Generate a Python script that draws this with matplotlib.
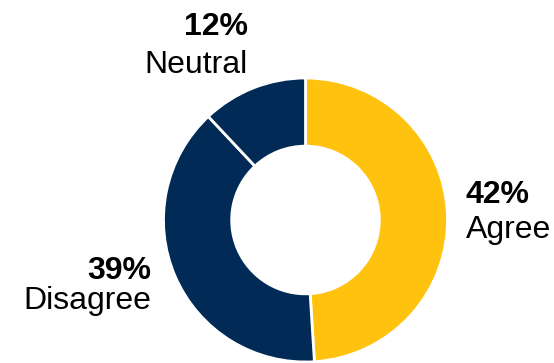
import matplotlib.pyplot as plt

# slice sizes as drawn and the printed labels
categories = ["Agree", "Disagree", "Neutral"]
slice_values = [49, 39, 12]
pct_labels = ["42%", "39%", "12%"]
colors = ["#FEC20F", "#012A57", "#012A57"]

W, H = 554, 363
plt.rcParams["font.family"] = ["Liberation Sans", "DejaVu Sans"]

fig = plt.figure(figsize=(W / 100, H / 100), dpi=100)

# donut box in pixels: center (305.5, 220), radius 142
cx, cy, r = 305.5, 220, 142
ax = fig.add_axes([(cx - r) / W, (H - cy - r) / H, 2 * r / W, 2 * r / H])
ax.pie(slice_values, colors=colors, startangle=90, counterclock=False,
       radius=1, wedgeprops=dict(width=0.48, edgecolor="white", linewidth=2))
ax.set_xlim(-1, 1)
ax.set_ylim(-1, 1)
ax.set_aspect("equal")
ax.axis("off")

# label placement (pixel x, baseline y of pct, baseline y of name, alignment)
label_pos = {
    "Agree": (466, 203, 238, "left"),
    "Disagree": (151, 279, 309, "right"),
    "Neutral": (248, 35, 73, "right"),
}
fs = 23
for cat, pct in zip(categories, pct_labels):
    x, y1, y2, ha = label_pos[cat]
    fig.text(x / W, (H - y1) / H, pct, ha=ha, va="baseline",
             fontsize=fs, fontweight="bold", color="black")
    fig.text(x / W, (H - y2) / H, cat, ha=ha, va="baseline",
             fontsize=fs, color="black")

fig.savefig("out.png", dpi=100)
